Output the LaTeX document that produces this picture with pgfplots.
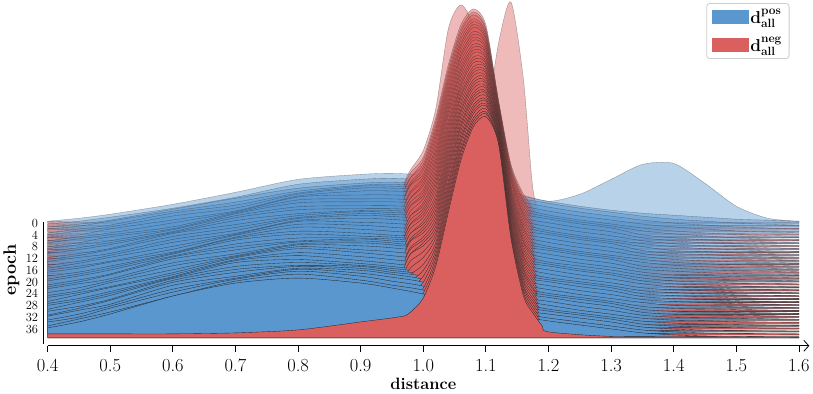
\documentclass[border=0pt]{standalone}
\usepackage{pgfplots}
\usepackage{pgfplotstable}
\pgfplotsset{compat=1.18}
\usetikzlibrary{arrows.meta}
\definecolor{cpos}{RGB}{91,151,207}
\definecolor{cneg}{RGB}{217,96,95}

% density heights (pt above each epoch's baseline), one column per epoch
\pgfplotstableread{
x e0 e1 e2 e3 e4 e5 e6 e7 e8 e9 e10 e11 e12 e13 e14 e15 e16 e17 e18 e19 e20 e21 e22 e23 e24 e25 e26 e27 e28 e29 e30 e31 e32 e33 e34 e35 e36 e37 e38 e39
0.40 2   2 2 3 2 3 4 3 4 3 4   4 5 4 5 6 5 5 6 7 6   6 7 6 7 8 7 7 8 7 8   9 8 9 8 10 9 10 9 10
0.45 5   5 5 6 6 7 6 7 8 7 8   8 9 8 9 10 9 10 10 11 10   11 12 11 12 13 12 12 13 14 13   14 15 14 15 16 15 15 16 16
0.50 9   9 9 11 10 11 12 11 12 13 12   13 14 13 15 14 15 16 15 17 16   17 18 17 19 18 19 20 19 21 20   21 22 21 23 22 23 24 23 24
0.60 19  18 20 21 22 22 21 21 20 21 23   24 26 28 28 28 28 27 27 27 29   31 32 34 35 34 34 33 33 34 35   37 39 40 41 41 40 40 39 42
0.70 31  29 31 30 30 30 30 32 34 36 37   38 38 37 37 37 37 39 41 42 44   45 44 44 44 43 44 46 48 49 51   52 51 51 51 50 51 53 54 55
0.80 44  42 41 41 42 44 45 47 47 47 46   46 45 46 47 49 50 52 52 52 51   51 50 50 52 53 55 56 57 56 56   55 55 55 57 58 60 61 61 60
0.90 49  47 46 47 49 50 50 49 48 48 47   47 48 50 51 52 52 51 51 50 49   49 50 52 53 54 54 53 53 52 51   51 52 54 55 56 56 56 55 55
0.95 50  48 47 48 49 50 50 49 48 48 47   47 48 49 50 51 51 50 49 48 47   48 49 50 51 52 52 51 50 49 48   48 49 50 51 52 52 51 50 50
1.00 48  46 45 46 47 48 48 47 46 46 45   45 46 47 48 48 48 47 46 45 45   45 46 47 47 48 48 47 46 45 44   44 45 46 47 47 47 46 45 44
1.10 38  36 36 36 36 35 35 35 35 35 35   34 34 34 34 34 34 33 33 33 33   33 33 32 32 32 32 32 31 31 31   31 31 31 30 30 30 30 30 30
1.15 30  31 31 31 30 30 30 30 29 29 29   29 28 28 28 28 27 27 27 27 27   26 26 26 26 25 25 25 25 24 24   24 24 23 23 23 23 22 22 22
1.20 22  25 26 25 24 23 24 25 24 23 22   23 24 23 22 21 22 23 22 21 20   21 22 21 20 19 20 21 20 19 18   19 20 19 18 17 18 18 17 17
1.25 29  20 21 20 19 18 19 20 19 18 17   18 19 18 17 16 17 18 17 16 16   16 17 16 15 15 16 16 15 14 14   15 15 14 13 13 14 14 13 13
1.30 44  16 17 16 15 14 15 16 15 14 13   14 15 14 13 12 13 14 13 12 12   12 13 12 11 11 12 12 11 10 10   11 11 10 9 9 10 10 9 9
1.35 59  13 13 12 11 10 10 9 9 9 9   9 8 8 8 8 8 7 7 7 7   7 7 7 6 6 6 6 6 6 5   5 5 5 5 5 5 5 5 5
1.40 60  11 10 9 8 7 7 6 6 6 6   5 5 5 5 5 5 5 5 4 4   4 4 4 4 4 4 4 4 3 3   3 3 3 3 3 3 3 3 3
1.45 40  9 8 7 6 5 5 4 4 4 4   4 4 4 3.5 3.5 3.5 3.5 3.5 3.5 3   3 3 3 3 3 3 3 3 2.5 2.5   2.5 2.5 2.5 2.5 2 2 2 2 2
1.50 17  7 6 5 4 3.5 3 3 3 3 3   2.5 2.5 2.5 2.5 2.5 2.5 2.5 2.5 2.5 2.5   2 2 2 2 2 2 2 2 2 2   2 2 2 1.5 1.5 1.5 1.5 1.5 1.5
1.55 5   6 5 4 3 2.5 2 2 2 2 2   2 2 2 2 2 2 2 2 2 2   1.5 1.5 1.5 1.5 1.5 1.5 1.5 1.5 1.5 1.5   1.5 1.5 1.5 1 1 1 1 1 1
1.60 2   5 4 3 2.5 2 1.5 1.5 1.5 1.5 1.5   1.5 1.5 1.5 1.5 1.5 1.5 1.5 1.5 1.5 1.5   1 1 1 1 1 1 1 1 1 1   1 1 1 1 1 1 1 1 1
}\postab

\pgfplotstableread{
x e0 e1 e2 e3 e4 e5 e6 e7 e8 e9 e10 e11 e12 e13 e14 e15 e16 e17 e18 e19 e20 e21 e22 e23 e24 e25 e26 e27 e28 e29 e30 e31 e32 e33 e34 e35 e36 e37 e38 e39
0.40 2 2.5   3 3.5 2.5 3 3.5 3 2.5 3 3.5   3 2.5 3.5 3 3 3.5 2.5 3 3.5 3   2.5 3 3.5 3 2.5 3.5 3 3 3.5 3   3 3.5 3.5 4 3.5 4 4 4.5 4
0.45 1 1.2   1.5 1.8 1.3 1.5 1.8 1.5 1.3 1.5 1.8   1.5 1.3 1.8 1.5 1.5 1.8 1.3 1.5 1.8 1.5   1.3 1.5 1.8 1.5 1.3 1.8 1.5 1.5 1.8 1.5   1.8 2 2.3 2.5 2.8 3 3.3 3.7 4
0.50 0.5 0.5   0.6 0.6 0.6 0.6 0.6 0.6 0.6 0.6 0.6   0.6 0.6 0.6 0.6 0.6 0.6 0.6 0.6 0.6 0.6   0.6 0.6 0.6 0.6 0.6 0.6 0.6 0.6 0.6 0.6   0.8 1 1.3 1.6 2 2.5 3 3.5 4
0.60 0.3 0.3   0.4 0.4 0.4 0.4 0.4 0.4 0.4 0.4 0.4   0.4 0.4 0.4 0.4 0.4 0.4 0.4 0.4 0.4 0.4   0.4 0.4 0.4 0.4 0.4 0.4 0.4 0.4 0.4 0.4   0.6 0.8 1 1.3 1.7 2.2 2.8 3.4 4
0.70 0.3 0.3   0.4 0.4 0.4 0.4 0.4 0.4 0.4 0.4 0.4   0.4 0.4 0.4 0.4 0.4 0.4 0.4 0.4 0.4 0.4   0.4 0.4 0.4 0.4 0.4 0.4 0.4 0.4 0.4 0.4   0.7 0.9 1.2 1.6 2 2.6 3.3 4.1 5
0.80 0.3 0.3   0.4 0.4 0.4 0.4 0.4 0.4 0.4 0.4 0.4   0.4 0.4 0.4 0.4 0.4 0.4 0.4 0.4 0.4 0.4   0.4 0.4 0.4 0.4 0.4 0.4 0.4 0.4 0.4 0.4   0.8 1.2 1.7 2.3 3 4 5.2 6.5 8
0.90 0.5 0.5   0.6 0.6 0.6 0.6 0.6 0.6 0.6 0.6 0.6   0.6 0.6 0.6 0.6 0.6 0.6 0.6 0.6 0.6 0.6   0.6 0.6 0.6 0.6 0.6 0.6 0.6 0.6 0.6 0.6   1.5 2.5 3.5 5 6.5 8.5 11 13.5 16
0.95 1 6   8 8 8 8 8 8 8 8 8   8 8 8 8 8 8 8 8 8 8   8 8 8 8 8 8 8 8 8 8   9 10 11 12 13.5 15 16.5 18 20
0.96 2 20   22 20 23 21 22 24 21 22 20   23 22 21 24 22 20 23 22 21 23   22 20 23 21 22 24 21 22 20 23   22 22 22 21 21 21 21 21 21
0.97 5 44   44 42 45 43 44 46 43 44 42   45 44 43 46 44 42 45 44 43 45   44 42 45 43 44 46 43 44 42 45   42 39 36 33 30 28 26 24 22
0.98 10 57   57 55 58 56 57 59 56 57 55   58 57 56 59 57 55 58 57 56 58   57 55 58 56 57 59 56 57 55 58   54 50 46 42 38 34 31 28 26
1.00 20 76   72 72 71 71 71 70 70 70 70   70 69 69 69 69 68 68 68 68 68   68 67 67 67 67 67 66 66 66 66   63 60 56 53 50 47 44 42 40
1.02 30 118   112 111 110 109 108 107 106 104 103   102 101 100 99 98 97 96 95 94 93   91 90 89 88 87 86 85 84 83 82   81 80 78 77 76 75 74 73 72
1.04 38 198   165 164 163 162 161 160 159 158 157   156 155 154 153 152 150 149 148 147 146   145 144 143 142 141 140 139 138 137 136   134 133 132 131 130 129 128 127 126
1.06 45 222   205 204 204 203 202 201 201 200 199   199 198 197 196 196 195 194 193 193 192   191 191 190 189 188 188 187 186 185 185   184 183 182 182 181 180 180 179 178
1.08 60 200   221 221 221 220 220 220 220 219 219   219 219 218 218 218 218 217 217 217 216   216 216 216 215 215 215 215 214 214 214   214 213 213 213 213 212 212 212 212
1.10 100 130   205 205 206 206 207 207 208 208 209   209 210 210 211 211 212 212 213 213 214   214 215 215 216 216 217 217 218 218 219   219 219 220 220 221 221 221 222 222
1.12 180 70   130 132 134 135 137 139 141 142 144   146 148 149 151 153 155 156 158 160 162   163 165 167 169 170 172 174 176 177 179   181 183 184 186 188 190 191 193 195
1.14 222 40   65 66 67 68 69 70 71 72 73   74 74 75 76 77 78 79 80 81 82   83 84 85 86 87 88 89 90 91 91   92 93 94 95 96 97 98 99 100
1.16 144 25   35 35 35 36 36 36 36 36 37   37 37 37 37 38 38 38 38 38 39   39 39 39 39 40 40 40 40 40 41   41 41 41 41 41 42 42 42 42
1.175 35 15   22 22 22 22 22 22 22 23 23   23 23 23 23 23 23 23 23 24 24   24 24 24 24 24 24 24 24 24 24   25 25 25 25 25 25 25 25 25
1.19 3 4   6 6 6 6 7 7 7 7 7   8 8 8 8 8 8 9 9 9 9   9 10 10 10 10 10 10 11 11 11   11 11 11 11 12 12 12 12 12
1.20 1.5 2   2 2 2 2 2.5 2.5 2.5 2.5 3   3 3 3 3 3.5 3.5 3.5 3.5 4 4   4 4 4 4.5 4.5 4.5 4.5 5 5 5   5 5 5.5 5.5 5.5 5.5 6 6 6
1.30 1 1.2   1.5 1.5 1.5 1.5 1.5 1.5 1.5 1.5 1.5   1.5 1.5 1.5 1.5 1.5 1.5 1.5 1.5 1.5 1.5   1.5 1.5 1.5 1.5 1.5 1.5 1.5 1.5 1.5 1.5   1.5 1.5 1.5 1.5 1.5 1.5 1.5 1.5 1.5
1.45 1 1   1.5 1.5 1.5 1.5 1.5 1.5 1.5 1.5 1.5   1.5 1.5 1.5 1.5 1.5 1.5 1.5 1.5 1.5 1.5   1.5 1.5 1.5 1.5 1.5 1.5 1.5 1.5 1.5 1.5   1.5 1.5 1.5 1.5 1.5 1.5 1.5 1.5 1.5
1.60 0.5 0.8   1 1 1 1 1 1 1 1 1   1 1 1 1 1 1 1 1 1 1   1 1 1 1 1 1 1 1 1 1   1 1 1 1 1 1 1 1 1
}\negtab

\begin{document}
\begin{tikzpicture}
\begin{axis}[
  scale only axis, width=764.3pt, height=347pt,
  xmin=0.4, xmax=1.6166, ymin=-123, ymax=224,
  axis x line=bottom, axis y line=left,
  x axis line style={line width=0.8pt, -{Straight Barb[length=5pt,width=11pt]}},
  y axis line style={draw=none},
  xtick={0.4,0.5,0.6,0.7,0.8,0.9,1.0,1.1,1.2,1.3,1.4,1.5,1.6},
  xticklabels={0.4,0.5,0.6,0.7,0.8,0.9,1.0,1.1,1.2,1.3,1.4,1.5,1.6},
  tick align=outside, major tick length=6pt,
  xtick style={line width=0.8pt, black},
  ytick={0,-11.8,-23.6,-35.4,-47.2,-59,-70.8,-82.6,-94.4,-106.2},
  yticklabels={0,4,8,12,16,20,24,28,32,36},
  ytick style={draw=none},
  xticklabel style={font=\fontsize{18.5}{18.5}\selectfont, yshift=-4pt},
  yticklabel style={font=\fontsize{12.5}{12.5}\selectfont, inner sep=0.5pt, xshift=-3pt},
  every axis x label/.style={at={(axis cs:1.0,-123)}, anchor=base, yshift=-44pt,
    font=\fontsize{16.5}{16.5}\selectfont\bfseries},
  every axis y label/.style={at={(axis cs:0.4,-47)}, xshift=-32pt, rotate=90, anchor=base,
    font=\fontsize{18}{18}\selectfont\bfseries},
  xlabel={distance}, ylabel={epoch},
  legend image code/.code={\fill[#1, sharp corners] (0pt,-6.5pt) rectangle (36pt,6.5pt);},
  legend style={at={(rel axis cs:0.974,0.991)}, anchor=north east,
    draw=black!20, line width=0.8pt, rounded corners=3pt,
    font=\fontsize{18}{18}\selectfont, inner xsep=5pt, inner ysep=4pt, row sep=9pt,
    cells={anchor=west}},
]
\pgfplotsinvokeforeach{0,...,39}{
  \addplot[forget plot, smooth, tension=0.45, fill=cpos, draw=black!85, line width=0.35pt,
    /tikz/opacity/.evaluated={0.43+0.57*#1/39}]
    table[x=x, y expr=\thisrow{e#1}-2.95*#1] {\postab}
    -- (axis cs:1.6,{-2.95*#1}) -- (axis cs:0.4,{-2.95*#1}) -- cycle;
  \addplot[forget plot, smooth, tension=0.45, fill=cneg, draw=black!85, line width=0.35pt,
    /tikz/opacity/.evaluated={0.43+0.57*#1/39}]
    table[x=x, y expr=\thisrow{e#1}-2.95*#1] {\negtab}
    -- (axis cs:1.6,{-2.95*#1}) -- (axis cs:0.4,{-2.95*#1}) -- cycle;
}
\addlegendimage{cpos}
\addlegendentry{$\mathbf{d}^{\mathbf{pos}}_{\mathbf{all}}$}
\addlegendimage{cneg}
\addlegendentry{$\mathbf{d}^{\mathbf{neg}}_{\mathbf{all}}$}
\coordinate (etop) at (axis cs:0.4,1);
\coordinate (ebot) at (axis cs:0.4,-121);
\end{axis}
\draw[line width=0.8pt] ([xshift=-4pt]etop) -- ([xshift=-4pt]ebot);
\end{tikzpicture}
\end{document}
